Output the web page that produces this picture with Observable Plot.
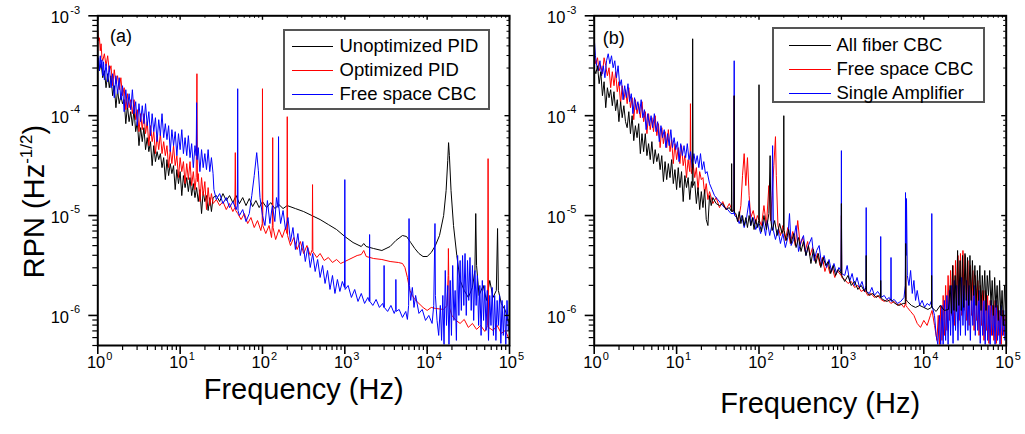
<!DOCTYPE html>
<html><head><meta charset="utf-8">
<script src="https://cdn.jsdelivr.net/npm/d3@7"></script>
<script src="https://cdn.jsdelivr.net/npm/@observablehq/plot@0.6"></script>
<style>
body{margin:0;background:#fff;}
#chart{position:relative;width:1025px;height:434px;font-family:"Liberation Sans",Arial,Helvetica,sans-serif;overflow:hidden;}
#chart svg{position:absolute;top:0;overflow:visible;max-width:none;}
.legend{position:absolute;border:2px solid #555;box-sizing:border-box;background:#fff;}
.lline{position:absolute;height:1px;}
.ltext{position:absolute;height:24px;line-height:24px;font-size:18.5px;white-space:nowrap;color:#000;}
.tag{position:absolute;font-size:18px;line-height:20px;color:#000;}
</style></head><body><div id="chart"></div>
<script>
// ---- Data: each point is [log10(frequency in Hz), log10(RPN in Hz^-1/2)] ----
const xTickExponents = [0, 1, 2, 3, 4, 5];
const yTickExponents = [-6, -5, -4, -3];
const titleA = ["Unoptimized PID", "Optimized PID", "Free space CBC"];
const titleB = ["All fiber CBC", "Free space CBC", "Single Amplifier"];
const xLabel = "Frequency (Hz)";

const aUnoptimizedPID = [[0.00,-3.45],[0.02,-3.55],[0.04,-3.48],[0.06,-3.62],[0.08,-3.55],[0.10,-3.72],[0.12,-3.58],[0.14,-3.72],[0.16,-3.60],[0.18,-3.80],[0.20,-3.70],[0.22,-3.92],[0.24,-3.74],[0.26,-3.88],[0.28,-3.80],[0.30,-3.88],[0.32,-3.84],[0.34,-4.08],[0.36,-3.90],[0.38,-4.06],[0.40,-3.96],[0.42,-4.10],[0.44,-3.94],[0.46,-4.16],[0.48,-4.06],[0.50,-4.30],[0.52,-4.12],[0.54,-4.26],[0.56,-4.12],[0.58,-4.34],[0.60,-4.22],[0.62,-4.36],[0.64,-4.26],[0.66,-4.50],[0.68,-4.30],[0.70,-4.46],[0.72,-4.36],[0.74,-4.44],[0.76,-4.38],[0.78,-4.52],[0.80,-4.42],[0.82,-4.64],[0.84,-4.44],[0.86,-4.60],[0.88,-4.48],[0.90,-4.58],[0.92,-4.50],[0.94,-4.74],[0.96,-4.54],[0.98,-4.68],[1.00,-4.56],[1.02,-4.80],[1.04,-4.60],[1.06,-4.72],[1.08,-4.62],[1.10,-4.76],[1.12,-4.62],[1.14,-4.80],[1.16,-4.68],[1.18,-4.82],[1.20,-4.72],[1.22,-4.86],[1.24,-4.74],[1.26,-4.98],[1.28,-4.76],[1.30,-4.86],[1.32,-4.80],[1.34,-4.95],[1.36,-4.82],[1.38,-4.96],[1.40,-4.82],[1.44,-4.80],[1.48,-4.86],[1.52,-4.78],[1.56,-4.85],[1.60,-4.80],[1.64,-4.87],[1.68,-4.80],[1.72,-4.88],[1.76,-4.82],[1.80,-4.90],[1.84,-4.83],[1.88,-4.91],[1.92,-4.85],[1.96,-4.92],[2.00,-4.86],[2.05,-4.92],[2.10,-4.87],[2.15,-4.93],[2.20,-4.89],[2.25,-4.93],[2.30,-4.90],[2.40,-4.93],[2.50,-4.96],[2.60,-5.00],[2.70,-5.04],[2.80,-5.09],[2.90,-5.14],[3.00,-5.21],[3.10,-5.27],[3.20,-5.31],[3.23,-5.28],[3.26,-5.31],[3.35,-5.33],[3.45,-5.35],[3.55,-5.31],[3.62,-5.25],[3.70,-5.20],[3.75,-5.21],[3.80,-5.27],[3.85,-5.33],[3.90,-5.38],[3.95,-5.41],[4.00,-5.41],[4.05,-5.37],[4.10,-5.30],[4.15,-5.20],[4.20,-5.00],[4.23,-4.75],[4.25,-4.45],[4.26,-4.27],[4.27,-4.40],[4.29,-4.75],[4.32,-5.10],[4.36,-5.40],[4.40,-5.65],[4.45,-5.75],[4.50,-5.82],[4.55,-5.72],[4.58,-5.55],[4.59,-4.98],[4.60,-5.50],[4.63,-5.80],[4.68,-5.70],[4.72,-5.85],[4.76,-5.65],[4.80,-5.82],[4.84,-5.75],[4.855,-5.13],[4.865,-5.75],[4.90,-5.88],[4.95,-5.95],[5.00,-6.10]];

const aOptimizedPID = [[0.00,-3.15],[0.01,-3.25],[0.02,-3.22],[0.03,-3.35],[0.04,-3.28],[0.05,-3.42],[0.06,-3.45],[0.08,-3.38],[0.10,-3.50],[0.12,-3.40],[0.14,-3.56],[0.16,-3.50],[0.18,-3.70],[0.20,-3.54],[0.22,-3.68],[0.24,-3.60],[0.26,-3.74],[0.28,-3.62],[0.30,-3.80],[0.32,-3.72],[0.34,-3.94],[0.36,-3.78],[0.38,-3.92],[0.40,-3.84],[0.42,-3.98],[0.44,-3.84],[0.46,-4.04],[0.48,-3.94],[0.50,-4.16],[0.52,-3.98],[0.54,-4.14],[0.56,-3.98],[0.58,-4.18],[0.60,-4.06],[0.62,-4.30],[0.64,-4.10],[0.66,-4.26],[0.68,-4.16],[0.70,-4.38],[0.72,-4.20],[0.74,-4.34],[0.76,-4.18],[0.78,-4.38],[0.80,-4.26],[0.82,-4.40],[0.84,-4.30],[0.86,-4.52],[0.88,-4.34],[0.90,-4.48],[0.92,-4.30],[0.94,-4.50],[0.96,-4.40],[0.98,-4.62],[1.00,-4.42],[1.02,-4.56],[1.04,-4.46],[1.06,-4.68],[1.08,-4.48],[1.10,-4.64],[1.12,-4.46],[1.14,-4.70],[1.16,-4.56],[1.18,-4.74],[1.195,-4.62],[1.204,-3.58],[1.210,-4.66],[1.22,-4.58],[1.24,-4.86],[1.26,-4.62],[1.28,-4.80],[1.30,-4.66],[1.32,-4.94],[1.34,-4.72],[1.36,-4.90],[1.38,-4.78],[1.40,-4.88],[1.44,-4.84],[1.48,-4.90],[1.52,-4.86],[1.56,-4.94],[1.60,-4.88],[1.64,-4.96],[1.665,-4.92],[1.670,-4.37],[1.675,-4.95],[1.70,-4.98],[1.74,-5.04],[1.78,-4.98],[1.82,-5.08],[1.86,-5.02],[1.90,-5.12],[1.94,-5.05],[1.98,-5.15],[1.997,-5.08],[2.000,-3.73],[2.004,-5.10],[2.04,-5.18],[2.08,-5.10],[2.11,-5.22],[2.120,-5.10],[2.124,-4.22],[2.128,-5.12],[2.16,-5.24],[2.20,-5.14],[2.24,-5.22],[2.28,-5.12],[2.297,-5.18],[2.301,-4.01],[2.305,-5.20],[2.34,-5.30],[2.38,-5.22],[2.42,-5.34],[2.46,-5.26],[2.50,-5.38],[2.54,-5.30],[2.58,-5.40],[2.604,-5.34],[2.608,-4.69],[2.612,-5.36],[2.66,-5.42],[2.70,-5.38],[2.75,-5.45],[2.80,-5.42],[2.85,-5.47],[2.90,-5.44],[2.95,-5.48],[3.00,-5.46],[3.05,-5.44],[3.10,-5.42],[3.15,-5.40],[3.20,-5.39],[3.23,-5.35],[3.26,-5.41],[3.35,-5.43],[3.45,-5.44],[3.55,-5.46],[3.65,-5.47],[3.70,-5.48],[3.73,-5.52],[3.76,-5.62],[3.79,-5.75],[3.82,-5.80],[3.85,-5.84],[3.90,-5.88],[3.95,-5.92],[4.00,-5.95],[4.05,-5.92],[4.10,-5.93],[4.20,-5.94],[4.24,-5.90],[4.255,-5.60],[4.258,-5.33],[4.262,-5.60],[4.27,-5.92],[4.30,-6.00],[4.35,-6.05],[4.40,-6.08],[4.45,-6.04],[4.50,-6.12],[4.55,-6.08],[4.60,-6.14],[4.65,-6.10],[4.70,-6.16],[4.735,-6.10],[4.740,-4.43],[4.745,-6.12],[4.80,-6.15],[4.85,-6.10],[4.90,-6.18],[4.95,-6.15],[5.00,-6.25]];

const aFreeSpaceCBC = [[0.00,-3.50],[0.01,-3.42],[0.02,-3.55],[0.03,-3.40],[0.04,-3.52],[0.05,-3.44],[0.06,-3.60],[0.07,-3.46],[0.08,-3.64],[0.10,-3.48],[0.12,-3.66],[0.14,-3.50],[0.16,-3.72],[0.18,-3.58],[0.20,-3.82],[0.22,-3.60],[0.24,-3.78],[0.26,-3.62],[0.28,-3.84],[0.30,-3.70],[0.32,-3.96],[0.34,-3.74],[0.36,-3.92],[0.38,-3.78],[0.40,-3.94],[0.42,-3.74],[0.44,-3.98],[0.46,-3.86],[0.48,-4.10],[0.50,-3.88],[0.52,-4.06],[0.54,-3.90],[0.56,-4.08],[0.58,-3.88],[0.60,-4.10],[0.62,-3.96],[0.64,-4.20],[0.66,-3.98],[0.68,-4.16],[0.70,-4.02],[0.72,-4.26],[0.74,-4.04],[0.76,-4.20],[0.78,-3.98],[0.80,-4.22],[0.82,-4.08],[0.84,-4.24],[0.86,-4.10],[0.88,-4.36],[0.90,-4.14],[0.92,-4.30],[0.94,-4.16],[0.96,-4.40],[0.98,-4.18],[1.00,-4.34],[1.02,-4.14],[1.04,-4.38],[1.06,-4.22],[1.08,-4.40],[1.10,-4.20],[1.12,-4.42],[1.14,-4.28],[1.16,-4.52],[1.18,-4.30],[1.195,-4.40],[1.200,-3.87],[1.206,-4.44],[1.22,-4.32],[1.24,-4.56],[1.26,-4.34],[1.28,-4.52],[1.30,-4.38],[1.32,-4.54],[1.34,-4.34],[1.36,-4.56],[1.38,-4.42],[1.40,-4.58],[1.41,-4.74],[1.44,-4.84],[1.48,-4.78],[1.52,-4.88],[1.56,-4.82],[1.60,-4.92],[1.64,-4.86],[1.68,-4.94],[1.695,-4.90],[1.699,-3.73],[1.703,-4.95],[1.72,-5.00],[1.76,-4.94],[1.80,-5.06],[1.84,-4.98],[1.87,-4.80],[1.90,-4.60],[1.93,-4.37],[1.95,-4.55],[1.97,-4.82],[2.00,-5.00],[2.03,-5.10],[2.06,-4.85],[2.09,-5.08],[2.12,-4.90],[2.15,-5.06],[2.17,-4.82],[2.190,-4.92],[2.195,-4.21],[2.200,-4.92],[2.22,-5.08],[2.25,-4.95],[2.28,-5.14],[2.31,-5.02],[2.34,-5.26],[2.37,-5.12],[2.40,-5.34],[2.43,-5.18],[2.46,-5.40],[2.49,-5.26],[2.52,-5.46],[2.55,-5.32],[2.58,-5.52],[2.61,-5.38],[2.64,-5.56],[2.67,-5.44],[2.70,-5.62],[2.73,-5.50],[2.76,-5.68],[2.79,-5.55],[2.82,-5.74],[2.85,-5.60],[2.88,-5.78],[2.91,-5.64],[2.94,-5.76],[2.97,-5.66],[2.996,-5.72],[3.000,-4.64],[3.004,-5.74],[3.04,-5.70],[3.08,-5.82],[3.12,-5.74],[3.16,-5.86],[3.20,-5.78],[3.24,-5.88],[3.28,-5.82],[3.298,-5.86],[3.301,-5.19],[3.305,-5.86],[3.34,-5.90],[3.38,-5.84],[3.42,-5.92],[3.46,-5.88],[3.475,-5.92],[3.477,-5.50],[3.480,-5.92],[3.52,-5.96],[3.56,-5.90],[3.60,-5.98],[3.618,-5.94],[3.620,-5.64],[3.623,-5.96],[3.66,-5.94],[3.70,-6.02],[3.74,-5.96],[3.76,-6.04],[3.775,-5.90],[3.780,-5.03],[3.785,-5.70],[3.80,-5.85],[3.82,-5.72],[3.84,-5.92],[3.86,-5.80],[3.90,-5.98],[3.94,-5.94],[3.98,-6.05],[4.02,-6.00],[4.06,-6.08],[4.08,-5.90],[4.095,-5.08],[4.10,-5.80],[4.12,-6.05],[4.14,-6.20],[4.16,-5.90],[4.175,-6.25],[4.19,-5.80],[4.205,-6.29],[4.22,-5.55],[4.235,-6.10],[4.25,-5.70],[4.265,-6.29],[4.28,-5.65],[4.295,-6.20],[4.31,-5.50],[4.325,-6.05],[4.34,-5.75],[4.355,-6.25],[4.37,-5.40],[4.385,-6.00],[4.40,-5.45],[4.415,-5.95],[4.43,-5.40],[4.445,-5.90],[4.46,-5.38],[4.475,-6.00],[4.49,-5.45],[4.505,-5.85],[4.52,-5.42],[4.535,-5.95],[4.55,-5.50],[4.565,-6.05],[4.58,-5.55],[4.595,-5.90],[4.61,-5.60],[4.625,-6.10],[4.64,-5.70],[4.655,-6.20],[4.67,-5.65],[4.685,-6.05],[4.70,-5.70],[4.715,-6.15],[4.73,-5.75],[4.745,-6.25],[4.76,-5.80],[4.775,-6.10],[4.79,-5.72],[4.805,-6.20],[4.82,-5.80],[4.835,-6.25],[4.85,-5.85],[4.865,-6.10],[4.88,-5.80],[4.895,-6.28],[4.91,-5.85],[4.925,-6.20],[4.94,-5.90],[4.955,-6.29],[4.97,-5.85],[4.985,-6.15],[5.00,-6.05]];

const bAllFiberCBC = [[0.00,-3.53],[0.02,-3.58],[0.04,-3.50],[0.06,-3.68],[0.08,-3.56],[0.10,-3.80],[0.12,-3.66],[0.14,-3.92],[0.16,-3.72],[0.18,-3.82],[0.20,-3.74],[0.22,-3.90],[0.24,-3.76],[0.26,-3.95],[0.28,-3.84],[0.30,-4.06],[0.32,-3.86],[0.34,-4.02],[0.36,-3.90],[0.38,-4.06],[0.40,-4.12],[0.42,-3.96],[0.44,-4.18],[0.46,-4.00],[0.48,-4.25],[0.50,-4.10],[0.52,-4.22],[0.54,-4.08],[0.56,-4.38],[0.58,-4.18],[0.60,-4.36],[0.62,-4.18],[0.64,-4.40],[0.66,-4.28],[0.68,-4.44],[0.70,-4.26],[0.72,-4.48],[0.74,-4.34],[0.76,-4.46],[0.78,-4.38],[0.80,-4.54],[0.82,-4.40],[0.84,-4.66],[0.86,-4.46],[0.88,-4.64],[0.90,-4.48],[0.92,-4.62],[0.94,-4.44],[0.96,-4.68],[0.98,-4.54],[1.00,-4.74],[1.02,-4.52],[1.04,-4.72],[1.06,-4.56],[1.08,-4.86],[1.10,-4.60],[1.12,-4.72],[1.14,-4.62],[1.16,-4.84],[1.18,-4.66],[1.190,-4.72],[1.195,-3.23],[1.200,-4.70],[1.22,-4.66],[1.24,-4.88],[1.26,-4.72],[1.28,-4.94],[1.30,-4.76],[1.32,-4.92],[1.34,-4.74],[1.36,-5.04],[1.38,-5.10],[1.40,-4.80],[1.42,-4.90],[1.44,-4.82],[1.48,-4.88],[1.52,-4.90],[1.56,-4.88],[1.60,-4.94],[1.64,-4.92],[1.665,-4.96],[1.668,-4.48],[1.672,-4.96],[1.695,-4.95],[1.699,-3.80],[1.703,-4.97],[1.72,-4.98],[1.74,-5.06],[1.76,-4.96],[1.78,-5.08],[1.80,-5.00],[1.82,-5.10],[1.84,-5.02],[1.86,-5.12],[1.88,-5.00],[1.90,-5.10],[1.92,-5.02],[1.94,-5.14],[1.96,-5.04],[1.98,-5.12],[1.997,-5.05],[2.000,-3.69],[2.004,-5.08],[2.03,-5.16],[2.06,-5.00],[2.09,-5.14],[2.12,-4.98],[2.135,-4.40],[2.145,-5.05],[2.16,-5.15],[2.19,-5.05],[2.22,-5.20],[2.25,-5.08],[2.28,-5.18],[2.297,-5.12],[2.301,-4.00],[2.305,-5.15],[2.33,-5.25],[2.36,-5.14],[2.39,-5.28],[2.42,-5.18],[2.45,-5.32],[2.48,-5.22],[2.51,-5.36],[2.54,-5.26],[2.57,-5.40],[2.60,-5.30],[2.63,-5.48],[2.66,-5.34],[2.69,-5.48],[2.72,-5.38],[2.75,-5.52],[2.78,-5.42],[2.81,-5.50],[2.84,-5.46],[2.87,-5.58],[2.90,-5.50],[2.93,-5.60],[2.96,-5.54],[2.996,-5.58],[3.000,-4.88],[3.004,-5.60],[3.04,-5.66],[3.08,-5.60],[3.12,-5.70],[3.16,-5.66],[3.20,-5.74],[3.24,-5.70],[3.28,-5.76],[3.298,-5.72],[3.301,-5.40],[3.305,-5.76],[3.34,-5.80],[3.38,-5.78],[3.42,-5.82],[3.46,-5.80],[3.475,-5.82],[3.477,-5.65],[3.480,-5.82],[3.50,-5.84],[3.55,-5.86],[3.60,-5.84],[3.65,-5.88],[3.70,-5.90],[3.75,-5.88],[3.775,-5.88],[3.780,-5.28],[3.785,-5.84],[3.80,-5.86],[3.85,-5.90],[3.90,-5.92],[3.95,-5.90],[4.00,-5.92],[4.05,-5.94],[4.093,-5.92],[4.095,-5.60],[4.098,-5.92],[4.15,-5.96],[4.20,-5.90],[4.25,-5.95],[4.30,-5.94],[4.32,-5.70],[4.335,-5.98],[4.35,-5.50],[4.365,-5.95],[4.38,-5.60],[4.395,-5.96],[4.41,-5.35],[4.425,-5.90],[4.44,-5.45],[4.455,-5.95],[4.47,-5.40],[4.485,-5.92],[4.50,-5.38],[4.515,-5.85],[4.53,-5.42],[4.545,-5.90],[4.56,-5.40],[4.575,-5.85],[4.59,-5.45],[4.605,-5.80],[4.62,-5.50],[4.635,-5.90],[4.65,-5.55],[4.665,-5.85],[4.68,-5.50],[4.695,-5.95],[4.71,-5.60],[4.725,-5.85],[4.74,-5.55],[4.755,-5.95],[4.77,-5.60],[4.785,-5.80],[4.80,-5.55],[4.815,-5.90],[4.83,-5.65],[4.845,-6.00],[4.86,-5.62],[4.875,-5.92],[4.89,-5.70],[4.905,-6.05],[4.92,-5.65],[4.935,-6.00],[4.95,-5.75],[4.965,-6.10],[4.98,-5.70],[5.00,-6.00]];

const bFreeSpaceCBC = [[0.00,-3.40],[0.02,-3.48],[0.04,-3.42],[0.06,-3.55],[0.08,-3.50],[0.10,-3.58],[0.12,-3.42],[0.14,-3.50],[0.16,-3.60],[0.18,-3.52],[0.20,-3.72],[0.22,-3.56],[0.24,-3.70],[0.26,-3.56],[0.28,-3.76],[0.30,-3.66],[0.32,-3.88],[0.34,-3.70],[0.36,-3.84],[0.38,-3.74],[0.40,-3.88],[0.42,-3.72],[0.44,-3.92],[0.46,-3.82],[0.48,-4.04],[0.50,-3.84],[0.52,-3.98],[0.54,-3.88],[0.56,-4.02],[0.58,-3.86],[0.60,-4.06],[0.62,-3.96],[0.64,-4.18],[0.66,-3.98],[0.68,-4.14],[0.70,-4.02],[0.72,-4.16],[0.74,-4.00],[0.76,-4.20],[0.78,-4.08],[0.80,-4.32],[0.82,-4.12],[0.84,-4.28],[0.86,-4.16],[0.88,-4.32],[0.90,-4.14],[0.92,-4.36],[0.94,-4.24],[0.96,-4.48],[0.98,-4.28],[1.00,-4.44],[1.02,-4.32],[1.04,-4.48],[1.06,-4.30],[1.08,-4.50],[1.10,-4.40],[1.12,-4.62],[1.14,-4.44],[1.16,-4.56],[1.165,-4.40],[1.168,-3.88],[1.172,-4.45],[1.18,-4.58],[1.20,-4.48],[1.22,-4.62],[1.24,-4.52],[1.26,-4.74],[1.28,-4.56],[1.30,-4.64],[1.32,-4.62],[1.34,-4.78],[1.36,-4.68],[1.38,-4.84],[1.40,-4.76],[1.44,-4.88],[1.48,-4.82],[1.52,-4.92],[1.56,-4.86],[1.60,-4.94],[1.64,-4.88],[1.68,-4.96],[1.695,-4.94],[1.699,-3.80],[1.703,-4.98],[1.72,-5.00],[1.75,-5.06],[1.78,-4.90],[1.80,-4.60],[1.82,-4.38],[1.84,-4.70],[1.86,-4.42],[1.88,-4.80],[1.90,-5.02],[1.93,-4.95],[1.96,-5.08],[1.98,-5.00],[2.00,-5.04],[2.03,-5.10],[2.06,-4.90],[2.09,-5.10],[2.12,-4.70],[2.14,-5.05],[2.16,-4.80],[2.18,-4.50],[2.20,-4.21],[2.21,-4.60],[2.23,-5.10],[2.26,-5.20],[2.29,-5.10],[2.32,-5.25],[2.35,-5.12],[2.38,-5.28],[2.41,-5.16],[2.44,-5.30],[2.47,-5.05],[2.50,-5.30],[2.53,-5.22],[2.56,-5.36],[2.59,-5.26],[2.62,-5.40],[2.65,-5.32],[2.68,-5.46],[2.71,-5.38],[2.74,-5.50],[2.77,-5.42],[2.80,-5.56],[2.83,-5.48],[2.86,-5.58],[2.89,-5.52],[2.92,-5.62],[2.95,-5.55],[2.996,-5.60],[3.000,-5.00],[3.004,-5.62],[3.04,-5.64],[3.08,-5.68],[3.12,-5.66],[3.16,-5.72],[3.20,-5.70],[3.24,-5.76],[3.28,-5.74],[3.32,-5.80],[3.36,-5.78],[3.40,-5.82],[3.44,-5.80],[3.48,-5.84],[3.52,-5.86],[3.56,-5.84],[3.60,-5.88],[3.64,-5.86],[3.68,-5.90],[3.72,-5.88],[3.76,-5.92],[3.778,-5.88],[3.780,-5.60],[3.783,-5.90],[3.80,-5.92],[3.84,-5.96],[3.88,-6.00],[3.92,-6.08],[3.96,-6.12],[4.00,-6.05],[4.04,-6.10],[4.08,-6.00],[4.10,-5.95],[4.13,-6.10],[4.16,-6.25],[4.175,-6.00],[4.19,-6.29],[4.205,-5.90],[4.22,-6.25],[4.235,-5.80],[4.25,-6.20],[4.265,-5.70],[4.28,-6.15],[4.295,-5.60],[4.31,-6.05],[4.325,-5.55],[4.34,-6.00],[4.355,-5.50],[4.37,-6.10],[4.385,-5.45],[4.40,-5.95],[4.415,-5.40],[4.43,-6.05],[4.445,-5.38],[4.46,-6.00],[4.475,-5.35],[4.49,-5.95],[4.505,-5.40],[4.52,-6.05],[4.535,-5.45],[4.55,-6.10],[4.565,-5.50],[4.58,-6.00],[4.595,-5.55],[4.61,-6.15],[4.625,-5.60],[4.64,-6.05],[4.655,-5.65],[4.67,-6.20],[4.685,-5.70],[4.70,-6.10],[4.715,-5.75],[4.73,-6.25],[4.745,-5.75],[4.76,-6.15],[4.775,-5.80],[4.79,-6.28],[4.805,-5.85],[4.82,-6.20],[4.835,-5.90],[4.85,-6.25],[4.865,-5.85],[4.88,-6.28],[4.895,-5.90],[4.91,-6.20],[4.925,-5.95],[4.94,-6.29],[4.955,-5.95],[4.97,-6.20],[4.985,-6.00],[5.00,-6.15]];

const bSingleAmplifier = [[0.00,-3.22],[0.015,-3.40],[0.03,-3.50],[0.05,-3.55],[0.07,-3.45],[0.09,-3.60],[0.11,-3.50],[0.13,-3.62],[0.15,-3.45],[0.17,-3.38],[0.19,-3.48],[0.21,-3.40],[0.23,-3.52],[0.25,-3.45],[0.27,-3.62],[0.29,-3.50],[0.31,-3.70],[0.33,-3.64],[0.35,-3.84],[0.37,-3.70],[0.39,-3.82],[0.41,-3.68],[0.43,-3.86],[0.45,-3.78],[0.47,-3.98],[0.49,-3.82],[0.51,-3.94],[0.53,-3.86],[0.55,-3.98],[0.57,-3.84],[0.59,-4.02],[0.61,-3.94],[0.63,-4.14],[0.65,-3.98],[0.67,-4.10],[0.69,-4.00],[0.71,-4.12],[0.73,-3.98],[0.75,-4.16],[0.77,-4.06],[0.79,-4.26],[0.81,-4.10],[0.83,-4.22],[0.85,-4.14],[0.87,-4.32],[0.89,-4.18],[0.91,-4.30],[0.93,-4.14],[0.95,-4.32],[0.97,-4.22],[0.99,-4.34],[1.01,-4.26],[1.03,-4.46],[1.05,-4.28],[1.07,-4.40],[1.09,-4.30],[1.11,-4.42],[1.13,-4.28],[1.15,-4.44],[1.17,-4.36],[1.19,-4.52],[1.21,-4.38],[1.23,-4.48],[1.25,-4.40],[1.27,-4.52],[1.29,-4.38],[1.31,-4.54],[1.33,-4.46],[1.35,-4.58],[1.37,-4.56],[1.40,-4.68],[1.43,-4.74],[1.46,-4.80],[1.50,-4.84],[1.54,-4.88],[1.58,-4.92],[1.62,-4.94],[1.66,-4.98],[1.695,-4.98],[1.699,-3.45],[1.703,-5.00],[1.73,-5.02],[1.76,-5.08],[1.79,-5.00],[1.82,-5.12],[1.85,-5.02],[1.88,-4.85],[1.90,-5.10],[1.93,-5.02],[1.96,-5.14],[1.99,-5.08],[2.02,-5.18],[2.05,-5.06],[2.08,-5.20],[2.10,-5.05],[2.13,-5.20],[2.155,-5.10],[2.165,-4.30],[2.175,-5.15],[2.20,-5.24],[2.23,-5.14],[2.26,-5.28],[2.29,-5.18],[2.32,-5.32],[2.35,-5.22],[2.37,-4.98],[2.39,-5.30],[2.42,-5.24],[2.45,-5.10],[2.48,-5.36],[2.51,-5.26],[2.54,-5.20],[2.57,-5.40],[2.60,-5.30],[2.64,-5.22],[2.67,-5.45],[2.70,-5.35],[2.73,-5.30],[2.76,-5.50],[2.79,-5.40],[2.82,-5.52],[2.85,-5.44],[2.88,-5.56],[2.91,-5.48],[2.94,-5.58],[2.97,-5.52],[2.996,-5.56],[3.000,-4.35],[3.004,-5.58],[3.04,-5.60],[3.07,-5.50],[3.10,-5.66],[3.13,-5.58],[3.16,-5.70],[3.19,-5.62],[3.22,-5.72],[3.25,-5.66],[3.28,-5.76],[3.298,-5.70],[3.301,-4.92],[3.305,-5.76],[3.34,-5.78],[3.37,-5.72],[3.40,-5.80],[3.44,-5.76],[3.475,-5.80],[3.477,-5.21],[3.480,-5.82],[3.52,-5.80],[3.55,-5.84],[3.58,-5.82],[3.600,-5.85],[3.602,-5.42],[3.605,-5.86],[3.64,-5.84],[3.68,-5.88],[3.72,-5.86],[3.76,-5.82],[3.775,-5.70],[3.778,-4.77],[3.785,-5.40],[3.79,-4.83],[3.80,-5.60],[3.82,-5.70],[3.84,-5.55],[3.86,-5.78],[3.88,-5.65],[3.90,-5.85],[3.92,-5.75],[3.95,-5.90],[3.98,-5.85],[4.01,-5.92],[4.04,-5.88],[4.07,-5.90],[4.095,-5.85],[4.097,-4.98],[4.10,-5.90],[4.13,-6.00],[4.15,-6.20],[4.17,-6.29],[4.19,-6.00],[4.205,-6.29],[4.22,-5.90],[4.235,-6.29],[4.25,-5.85],[4.265,-6.25],[4.28,-5.80],[4.295,-6.29],[4.31,-5.75],[4.325,-6.20],[4.34,-5.70],[4.355,-6.28],[4.37,-5.65],[4.385,-6.15],[4.40,-5.70],[4.415,-6.25],[4.43,-5.65],[4.445,-6.20],[4.46,-5.62],[4.475,-6.10],[4.49,-5.70],[4.505,-6.20],[4.52,-5.65],[4.535,-6.15],[4.55,-5.70],[4.565,-6.25],[4.58,-5.75],[4.595,-6.10],[4.61,-5.70],[4.625,-6.20],[4.64,-5.80],[4.655,-6.15],[4.67,-5.75],[4.685,-6.28],[4.70,-5.80],[4.715,-6.20],[4.73,-5.85],[4.745,-6.29],[4.76,-5.80],[4.775,-6.25],[4.79,-5.90],[4.805,-6.29],[4.82,-5.85],[4.835,-6.20],[4.85,-5.90],[4.865,-6.29],[4.88,-5.85],[4.895,-6.25],[4.91,-5.95],[4.925,-6.29],[4.94,-5.90],[4.955,-6.20],[4.97,-5.95],[4.985,-6.25],[5.00,-6.10]];

// ---- Drawing ----
const FONT = '"Liberation Sans", Arial, Helvetica, sans-serif';
const toRows = pts => pts.map(([lf, lv]) => ({f: 10 ** lf, v: 10 ** lv}));
const xMajor = xTickExponents.map(e => 10 ** e);
const yMajor = yTickExponents.map(e => 10 ** e);
const xMinor = [], yMinor = [];
for (let e = 0; e < 5; e++) for (let k = 2; k <= 9; k++) xMinor.push(k * 10 ** e);
for (let e = -7; e < -3; e++) for (let k = 2; k <= 9; k++) { const v = k * 10 ** e; if (v >= 5e-7) yMinor.push(v); }

const H = 434, MT = 15.3, MB = 89;
function panel({series, width, marginLeft, marginRight, labelDx, labelDy}) {
  const PH = H - MT - MB, PW = width - marginLeft - marginRight;
  return Plot.plot({
    width, height: H, marginTop: MT, marginBottom: MB, marginLeft, marginRight,
    x: {type: "log", domain: [1, 1e5], axis: null},
    y: {type: "log", domain: [5e-7, 1e-3], axis: null},
    style: {fontFamily: FONT, overflow: "visible", background: "transparent", color: "black"},
    marks: [
      ...series.map(s => Plot.line(toRows(s.points), {x: "f", y: "v", stroke: s.color, strokeWidth: 1, clip: true})),
      Plot.ruleX(xMinor, {x: d => d, insetTop: PH, insetBottom: -5, strokeWidth: 1.2}),
      Plot.ruleX(xMajor, {x: d => d, insetTop: PH, insetBottom: -9, strokeWidth: 1.6}),
      Plot.ruleX(xMinor, {x: d => d, insetBottom: PH - 2.5, strokeWidth: 1}),
      Plot.ruleX(xMajor, {x: d => d, insetBottom: PH - 4.5, strokeWidth: 1.4}),
      Plot.ruleY(yMinor, {y: d => d, insetRight: PW, insetLeft: -5, strokeWidth: 1.2}),
      Plot.ruleY(yMajor, {y: d => d, insetRight: PW, insetLeft: -9, strokeWidth: 1.6}),
      Plot.ruleY(yMinor, {y: d => d, insetLeft: PW - 2.5, strokeWidth: 1}),
      Plot.ruleY(yMajor, {y: d => d, insetLeft: PW - 4.5, strokeWidth: 1.4}),
      Plot.frame({stroke: "black", strokeWidth: 2}),
      Plot.text(xTickExponents, {x: e => 10 ** e, frameAnchor: "bottom", text: () => "10", textAnchor: "end", dx: 7.5, dy: 22.7, fontSize: 16.5, fill: "black"}),
      Plot.text(xTickExponents, {x: e => 10 ** e, frameAnchor: "bottom", text: e => String(e), textAnchor: "start", dx: 8.5, dy: 14.5, fontSize: 11, fill: "black"}),
      Plot.text(yTickExponents, {y: e => 10 ** e, frameAnchor: "left", text: () => "10", textAnchor: "end", dx: -28.8, dy: 2.4, fontSize: 16.5, fill: "black"}),
      Plot.text(yTickExponents, {y: e => 10 ** e, frameAnchor: "left", text: e => String(e), textAnchor: "start", dx: -27.5, dy: -5.8, fontSize: 11, fill: "black"}),
      Plot.text([xLabel], {frameAnchor: "bottom", text: d => d, dx: labelDx, dy: labelDy, fontSize: 29, fill: "black"})
    ]
  });
}

const chart = document.getElementById("chart");
const plotA = panel({
  series: [
    {points: aUnoptimizedPID, color: "#000000"},
    {points: aOptimizedPID, color: "#ff0000"},
    {points: aFreeSpaceCBC, color: "#0000ff"}
  ],
  width: 512, marginLeft: 97.3, marginRight: 3, labelDx: 0, labelDy: 53.7
});
const plotB = panel({
  series: [
    {points: bFreeSpaceCBC, color: "#ff0000"},
    {points: bSingleAmplifier, color: "#0000ff"},
    {points: bAllFiberCBC, color: "#000000"}
  ],
  width: 513, marginLeft: 81.7, marginRight: 19.3, labelDx: 20, labelDy: 67.7
});
plotA.style.left = "0px";
plotB.style.left = "512px";
chart.appendChild(plotA);
chart.appendChild(plotB);

// y-axis title with superscript
const lab = d3.select(plotA).append("text")
  .attr("transform", "translate(43.5,201.5) rotate(-90)")
  .attr("text-anchor", "middle").attr("font-size", 29).attr("font-family", FONT).attr("fill", "black");
lab.append("tspan").text("RPN (Hz");
lab.append("tspan").attr("font-size", 17).attr("dy", -12).text("-1/2");
lab.append("tspan").attr("dy", 12).text(")");

// legends and panel tags
const colors = ["#000000", "#ff0000", "#0000ff"];
function legend(box, rows, lineX0, lineX1, textX, names) {
  const d = document.createElement("div");
  d.className = "legend";
  Object.assign(d.style, {left: box[0] + "px", top: box[1] + "px", width: (box[2] - box[0]) + "px", height: (box[3] - box[1]) + "px"});
  chart.appendChild(d);
  names.forEach((n, i) => {
    const l = document.createElement("div");
    l.className = "lline";
    Object.assign(l.style, {left: Math.round(lineX0) + "px", width: Math.round(lineX1 - lineX0) + "px", top: Math.round(rows[i]) + "px", background: colors[i]});
    chart.appendChild(l);
    const t = document.createElement("div");
    t.className = "ltext";
    t.textContent = n;
    Object.assign(t.style, {left: textX + "px", top: (rows[i] - 12) + "px"});
    chart.appendChild(t);
  });
}
legend([283, 29, 490, 110], [46, 70, 93.5], 292, 333, 339.5, titleA);
legend([771.7, 26.7, 985.3, 103], [45, 68.5, 92.7], 788.7, 831, 836.5, titleB);
function tag(text, x, y) {
  const t = document.createElement("div");
  t.className = "tag"; t.textContent = text;
  Object.assign(t.style, {left: x + "px", top: y + "px"});
  chart.appendChild(t);
}
tag("(a)", 110, 26);
tag("(b)", 602.7, 27.5);
</script></body></html>
